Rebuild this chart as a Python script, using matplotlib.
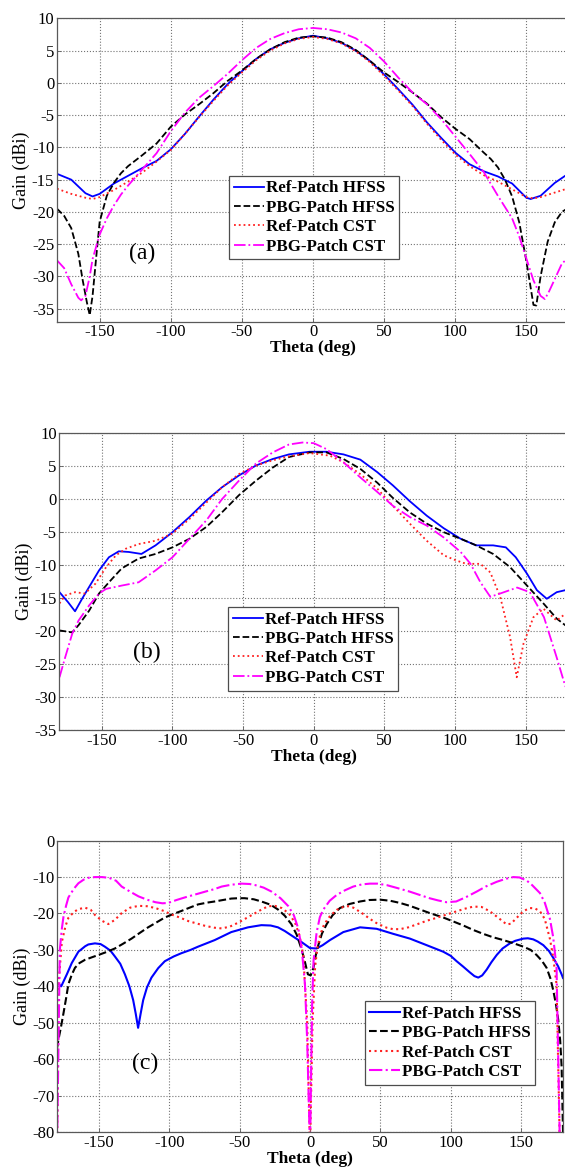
import numpy as np
import matplotlib
matplotlib.use("Agg")
import matplotlib.pyplot as plt

plt.rcParams['font.family'] = ['Liberation Serif', 'DejaVu Serif']
plt.rcParams['axes.unicode_minus'] = False

LABELS = ['Ref-Patch HFSS', 'PBG-Patch HFSS', 'Ref-Patch CST', 'PBG-Patch CST']

# ---------------- panel (a) ----------------
a_ref_hfss_t = [-180, -170, -160, -155, -150, -140, -130, -120, -110, -100, -90, -80, -70, -60, -50, -40, -30, -20, -10, 0,
                10, 20, 30, 40, 50, 60, 70, 80, 90, 100, 110, 120, 130, 140, 150, 153, 160, 170, 180]
a_ref_hfss_g = [-14.1, -15.0, -17.1, -17.6, -17.2, -15.6, -14.4, -13.2, -12.1, -10.3, -7.9, -5.2, -2.6, -0.2, 1.8, 3.7, 5.2, 6.2, 6.9, 7.3,
                6.9, 6.2, 5.0, 3.4, 1.3, -1.0, -3.4, -6.1, -8.5, -10.8, -12.6, -13.7, -14.5, -15.6, -17.8, -18.0, -17.5, -15.5, -14.0]

a_pbg_hfss_t = [-180, -175, -170, -165, -162, -159, -157, -155, -152, -150, -145, -140, -135, -130, -120, -110, -100, -90, -80, -70,
                -60, -50, -40, -30, -20, -10, 0, 10, 20, 30, 40, 50, 60, 70, 80, 90, 100, 110, 120, 125, 130, 135, 140, 145,
                150, 155, 157, 160, 165, 170, 175, 180]
a_pbg_hfss_g = [-19.5, -20.6, -22.5, -26.5, -30.5, -34.0, -36.0, -33.0, -26.0, -21.5, -17.5, -15.5, -14.0, -12.9, -11.2, -9.4, -6.8,
                -4.9, -3.3, -1.6, 0.3, 1.9, 3.7, 5.2, 6.3, 7.0, 7.2, 7.0, 6.3, 5.1, 3.4, 1.6, 0.1, -1.5, -3.2, -5.3, -7.1, -8.7,
                -10.8, -11.8, -13.1, -15.0, -17.6, -21.6, -27.6, -34.4, -34.5, -30.0, -24.6, -21.6, -20.0, -19.3]

a_ref_cst_t = [-180, -170, -160, -155, -150, -140, -130, -120, -110, -100, -90, -80, -70, -60, -50, -40, -30, -20, -10, 0,
               10, 20, 30, 40, 50, 60, 70, 80, 90, 100, 110, 120, 130, 140, 150, 155, 160, 170, 180]
a_ref_cst_g = [-16.4, -17.2, -17.8, -18.0, -17.7, -16.6, -15.3, -13.9, -12.2, -10.4, -7.9, -5.3, -2.8, -0.4, 1.6, 3.5, 5.0, 6.1, 6.8, 7.1,
               6.8, 6.1, 4.9, 3.2, 1.1, -1.2, -3.6, -6.3, -8.8, -11.1, -12.9, -14.3, -15.3, -16.5, -17.7, -17.9, -17.7, -17.0, -16.3]

a_pbg_cst_t = [-180, -175, -170, -165, -163, -160, -157, -155, -150, -145, -140, -135, -130, -120, -110, -100, -90, -80, -70, -60,
               -50, -40, -30, -20, -10, 0, 10, 20, 30, 40, 50, 60, 70, 80, 90, 100, 110, 120, 130, 140, 145, 150, 155, 160,
               163, 166, 170, 175, 180]
a_pbg_cst_g = [-27.5, -28.7, -31.2, -33.3, -33.7, -33.0, -30.0, -27.3, -23.5, -21.0, -19.0, -17.3, -15.9, -13.4, -10.9, -7.5, -4.6,
               -2.3, -0.5, 1.4, 3.5, 5.4, 6.8, 7.7, 8.3, 8.5, 8.3, 7.8, 6.9, 5.4, 3.3, 0.8, -1.5, -3.3, -5.6, -8.3, -11.0, -13.8,
               -17.5, -21.0, -23.8, -27.2, -30.6, -33.0, -33.5, -32.3, -30.4, -28.0, -27.0]

# ---------------- panel (b) ----------------
b_ref_hfss_t = [-180, -174, -169, -164, -159, -152, -145, -138, -131, -122, -112, -100, -88, -76, -65, -53, -41, -29, -17.5, -3,
                9, 21, 33, 45, 56, 68, 80, 92, 104, 115, 127, 136, 143, 151, 158, 165, 172, 178, 180]
b_ref_hfss_g = [-14.1, -15.6, -17.0, -15.1, -13.3, -10.8, -8.8, -7.9, -8.0, -8.3, -7.0, -5.0, -2.7, -0.2, 1.8, 3.6, 5.1, 6.1, 6.8, 7.2,
                7.2, 6.8, 6.0, 4.1, 2.1, -0.3, -2.5, -4.4, -6.0, -7.0, -7.0, -7.3, -8.8, -11.3, -13.8, -15.1, -14.1, -13.8, -13.8]

b_pbg_hfss_t = [-180, -171, -166.5, -159, -152, -145, -136, -124, -112, -100, -88, -76, -65, -53, -41, -29, -17.5, -3,
                9, 21, 33, 45, 56, 68, 80, 92, 104, 115, 127, 139, 151, 163, 172, 178, 180]
b_pbg_hfss_g = [-19.9, -20.2, -19.1, -16.9, -14.3, -12.6, -10.5, -9.0, -8.3, -7.3, -6.0, -4.2, -2.0, 0.6, 2.8, 4.8, 6.4, 7.1,
                7.1, 6.1, 4.6, 2.5, 0.2, -2.0, -3.7, -5.0, -6.0, -7.0, -8.3, -10.3, -13.1, -15.9, -18.1, -19.1, -19.4]

b_ref_cst_t = [-180, -176, -169, -162, -154.5, -147, -140, -133, -124, -112, -100, -88, -76, -65, -53, -41, -29, -17.5, -3,
               11.5, 21, 33, 45, 56, 68, 80, 92, 101, 108, 118, 125, 132, 139, 143.7, 148.5, 155.5, 162.6, 172, 178, 180]
b_ref_cst_g = [-15.8, -14.6, -14.1, -14.3, -12.8, -10.3, -8.5, -7.5, -6.8, -6.3, -5.2, -3.0, -0.5, 1.8, 3.8, 5.1, 5.9, 6.5, 7.0,
               6.6, 5.6, 3.8, 1.6, -1.0, -3.7, -6.3, -8.5, -9.3, -9.8, -9.8, -11.1, -14.8, -20.9, -27.0, -21.9, -17.9, -16.6,
               -18.4, -17.4, -17.3]

b_pbg_cst_t = [-180, -176, -171, -166.5, -159, -152, -147, -136, -124, -112, -100, -88, -76, -65, -53, -41, -29, -17.5, -8, 0,
               9, 21, 33, 45, 56, 68, 80, 92, 104, 111, 118, 125, 132, 144, 153, 163, 172, 178, 180]
b_pbg_cst_g = [-27.0, -24.0, -20.4, -18.4, -16.1, -14.3, -13.6, -13.1, -12.6, -10.8, -8.8, -6.0, -3.2, 0.0, 2.8, 5.4, 7.1, 8.3, 8.6,
               8.5, 7.6, 5.6, 3.3, 1.1, -1.0, -2.7, -4.0, -5.8, -8.0, -9.8, -12.6, -14.8, -14.3, -13.4, -14.1, -17.9, -24.0,
               -28.3, -29.0]

# ---------------- panel (c) ----------------
c_ref_hfss_t = [-180, -177, -173, -169.5, -164.8, -160, -157.7, -153, -149, -146, -142, -138.8, -135, -131.7, -128.5, -125.8,
                -124, -122.3, -120.5, -118.7, -116, -112.8, -108, -103.3, -97, -91.5, -85, -79.6, -67.8, -56, -44.1, -34.6,
                -28, -22.8, -18, -13.3, -6.2, 0, 4.7, 9, 14.2, 23.7, 35.6, 47.4, 59.3, 71.1, 83, 94.8, 100, 104.3, 109,
                113.8, 117, 119.7, 122.5, 125.7, 129, 132.8, 137, 142.2, 146, 151.7, 155, 158.8, 162, 166, 170, 173.1,
                176.5, 179, 180]
c_ref_hfss_g = [-39.0, -40.0, -36.7, -33.6, -30.5, -29.0, -28.5, -28.2, -28.4, -29.1, -30.2, -31.8, -33.8, -36.7, -40.0, -43.8,
                -47.5, -51.4, -47.5, -43.8, -40.3, -37.6, -35.0, -33.1, -31.8, -30.9, -30.0, -29.1, -27.3, -25.1, -23.8, -23.2,
                -23.3, -23.8, -24.8, -26.0, -27.8, -29.5, -29.6, -28.7, -27.3, -25.1, -23.8, -24.2, -25.6, -26.9, -28.7, -30.5,
                -31.6, -33.1, -34.6, -36.2, -37.2, -37.6, -37.0, -35.4, -33.4, -31.4, -29.6, -28.2, -27.5, -26.9, -26.8,
                -27.1, -27.7, -28.7, -30.3, -32.2, -34.5, -36.7, -37.7]

c_pbg_hfss_t = [-180, -178.9, -177, -175.4, -173.5, -171.9, -169.5, -167.2, -164, -160, -155, -150.6, -145, -138.8, -133,
                -127, -121, -115.2, -109, -103.3, -97, -91.5, -85, -79.6, -73, -67.8, -62, -56, -51, -46.5, -40, -34.6, -28,
                -22.8, -18, -13.3, -9.5, -6.2, -3.5, -1.5, 0.5, 2.4, 4, 5.9, 8.5, 11.9, 16, 21.3, 28, 35.6, 42, 49.8, 57, 64,
                71, 78.2, 86, 94.8, 102, 109.1, 116, 123.3, 130, 137.5, 145, 151.7, 157, 161.2, 165, 168.3, 171, 173.1,
                175, 176.6, 178, 179, 180]
c_pbg_hfss_g = [-57.0, -54.5, -50.8, -47.4, -43.2, -39.4, -36.8, -34.9, -33.6, -32.7, -32.0, -31.4, -30.6, -29.6, -28.3, -26.9,
                -25.3, -23.8, -22.4, -21.1, -20.1, -19.3, -18.3, -17.5, -17.0, -16.7, -16.3, -15.9, -15.8, -15.8, -16.1, -16.7,
                -17.6, -18.9, -20.6, -22.9, -25.8, -29.6, -33.5, -36.7, -37.0, -34.9, -31.6, -28.7, -25.5, -22.9, -20.5, -18.5,
                -17.4, -16.7, -16.3, -16.2, -16.5, -17.1, -17.9, -18.9, -20.0, -21.1, -22.2, -23.3, -24.5, -25.6, -26.5, -27.3,
                -28.2, -29.1, -30.0, -31.4, -33.0, -34.9, -37.8, -41.2, -45.0, -49.2, -55.0, -62.0, -80.0]

c_ref_cst_t = [-180, -178.9, -176.6, -174, -171.9, -168, -164.8, -160, -156, -153, -148, -143.5, -139, -134, -128, -122, -116,
               -110, -104, -98.4, -92, -86.5, -80, -74.6, -68, -62.8, -57, -51, -45, -39, -34, -29.6, -25, -20.2, -15,
               -10.7, -7.5, -4.8, -2, 0, 1.8, 3.6, 5, 7.1, 10, 14.2, 19, 23.7, 27, 30.8, 37, 42.7, 48, 54.5, 59, 64, 70,
               75.9, 83, 90, 97, 104.3, 110, 116.2, 122, 128, 134, 139.9, 143, 147, 152, 156.5, 160, 163.6, 167, 170.7,
               173, 175.4, 177.8, 180]
c_ref_cst_g = [-85.0, -39.4, -27.9, -23.5, -21.2, -19.6, -18.8, -18.4, -19.0, -20.4, -22.0, -22.9, -21.8, -19.9, -18.4, -17.9,
               -18.0, -18.5, -19.3, -20.3, -21.2, -22.1, -22.8, -23.4, -23.9, -24.1, -23.6, -22.5, -21.2, -19.9, -18.8, -18.0,
               -17.9, -18.5, -20.0, -22.5, -26.0, -31.4, -50.0, -85.0, -50.0, -34.8, -30.0, -26.0, -23.0, -20.7, -19.0, -18.2,
               -18.0, -18.4, -19.9, -21.5, -22.8, -23.9, -24.3, -24.3, -23.8, -23.0, -22.0, -21.2, -20.3, -19.4, -18.7, -18.1,
               -18.2, -19.4, -21.2, -23.0, -22.8, -21.2, -19.3, -18.5, -18.6, -19.4, -21.5, -27.0, -32.0, -39.5, -85.0, -85.0]

c_pbg_cst_t = [-180, -178, -176.5, -175.4, -173.5, -171.9, -168, -164.8, -161, -157.7, -153, -148, -143, -138, -134, -128,
               -122, -116, -110, -105, -101, -95, -90, -86.5, -80, -74.6, -68, -62.8, -56, -48.6, -43, -39, -33, -27.3,
               -21, -15.4, -11.5, -8.3, -5.8, -3.6, -2, 0, 1.5, 2.5, 4.7, 7, 9.5, 14, 19, 25, 30.8, 37, 42.7, 48, 54.5,
               62, 71, 78, 85, 91, 97, 104, 111, 118.5, 125, 132.8, 139, 144.6, 149, 154, 158, 163.6, 167, 170.7, 173,
               175.4, 177.8, 180]
c_pbg_cst_g = [-85.0, -30.0, -24.0, -20.9, -17.8, -15.6, -13.2, -11.7, -10.7, -10.2, -10.0, -10.0, -10.2, -11.0, -12.6, -14.0,
               -15.3, -16.2, -16.9, -17.2, -17.1, -16.3, -15.7, -15.3, -14.6, -14.0, -13.3, -12.6, -12.1, -11.8, -11.9, -12.2,
               -12.9, -14.0, -15.8, -18.0, -20.5, -24.2, -30.0, -39.4, -55.0, -85.0, -45.0, -33.0, -25.2, -21.0, -18.9, -16.5,
               -14.9, -13.6, -12.6, -12.0, -11.8, -11.8, -12.2, -13.0, -14.0, -14.9, -15.8, -16.4, -16.9, -16.7, -15.5, -14.0,
               -12.6, -11.3, -10.5, -10.0, -10.1, -10.9, -12.2, -14.4, -17.0, -21.5, -26.5, -34.9, -85.0, -85.0]

STYLES = [
    dict(color='#0000ff', linestyle='-'),
    dict(color='black', linestyle='--'),
    dict(color='#ff2020', linestyle=':'),
    dict(color='#ff00ff', linestyle='-.'),
]


def draw_panel(fig, rect, series, ylim, yticks, tag, tag_xy, leg_xy, lw=1.3):
    ax = fig.add_axes(rect)
    for (t, g), st, lab in zip(series, STYLES, LABELS):
        ax.plot(t, g, lw=lw, label=lab, **st)
    ax.set_xlim(-180, 180)
    ax.set_ylim(*ylim)
    ax.set_xticks([-150, -100, -50, 0, 50, 100, 150])
    ax.set_yticks(yticks)
    ax.grid(True, linestyle=':', color='0.45', lw=0.8)
    for s in ax.spines.values():
        s.set_color('0.35')
        s.set_linewidth(0.9)
    ax.tick_params(direction='in', length=3, width=0.6, colors='0.35', labelcolor='black',
                   labelsize=12, pad=2)
    ax.set_ylabel('Gain (dBi)', fontsize=13, labelpad=1)
    ax.set_xlabel('Theta (deg)', fontsize=12.5, fontweight='bold', labelpad=0)
    ax.text(tag_xy[0], tag_xy[1], tag, fontsize=17, ha='center', va='center')
    leg = ax.legend(loc='upper left', bbox_to_anchor=leg_xy, borderaxespad=0,
                    prop=dict(weight='bold', size=12.2), handlelength=1.8, handletextpad=0.1,
                    labelspacing=0.2, borderpad=0.28, fancybox=False, framealpha=1)
    leg.get_frame().set_edgecolor('0.3')
    leg.get_frame().set_linewidth(0.9)
    return ax


fig = plt.figure(figsize=(5.65, 11.71), dpi=100)

draw_panel(fig, [0.1009, 0.7253, 0.9062, 0.2591],
           [(a_ref_hfss_t, a_ref_hfss_g), (a_pbg_hfss_t, a_pbg_hfss_g),
            (a_ref_cst_t, a_ref_cst_g), (a_pbg_cst_t, a_pbg_cst_g)],
           (-37, 10), np.arange(-35, 11, 5), '(a)', (-120, -26.5), (0.336, 0.481))

draw_panel(fig, [0.1053, 0.3766, 0.9000, 0.2534],
           [(b_ref_hfss_t, b_ref_hfss_g), (b_pbg_hfss_t, b_pbg_hfss_g),
            (b_ref_cst_t, b_ref_cst_g), (b_pbg_cst_t, b_pbg_cst_g)],
           (-35, 10), np.arange(-35, 11, 5), '(b)', (-118.5, -23.3), (0.331, 0.415))

# bottom panel a bit shorter so its x label stays on the page
draw_panel(fig, [0.1009, 0.0333, 0.8956, 0.2488],
           [(c_ref_hfss_t, c_ref_hfss_g), (c_pbg_hfss_t, c_pbg_hfss_g),
            (c_ref_cst_t, c_ref_cst_g), (c_pbg_cst_t, c_pbg_cst_g)],
           (-80, 0), np.arange(-80, 1, 10), '(c)', (-117, -61.3), (0.608, 0.449), lw=1.5)

fig.savefig('out.png', dpi=100)
